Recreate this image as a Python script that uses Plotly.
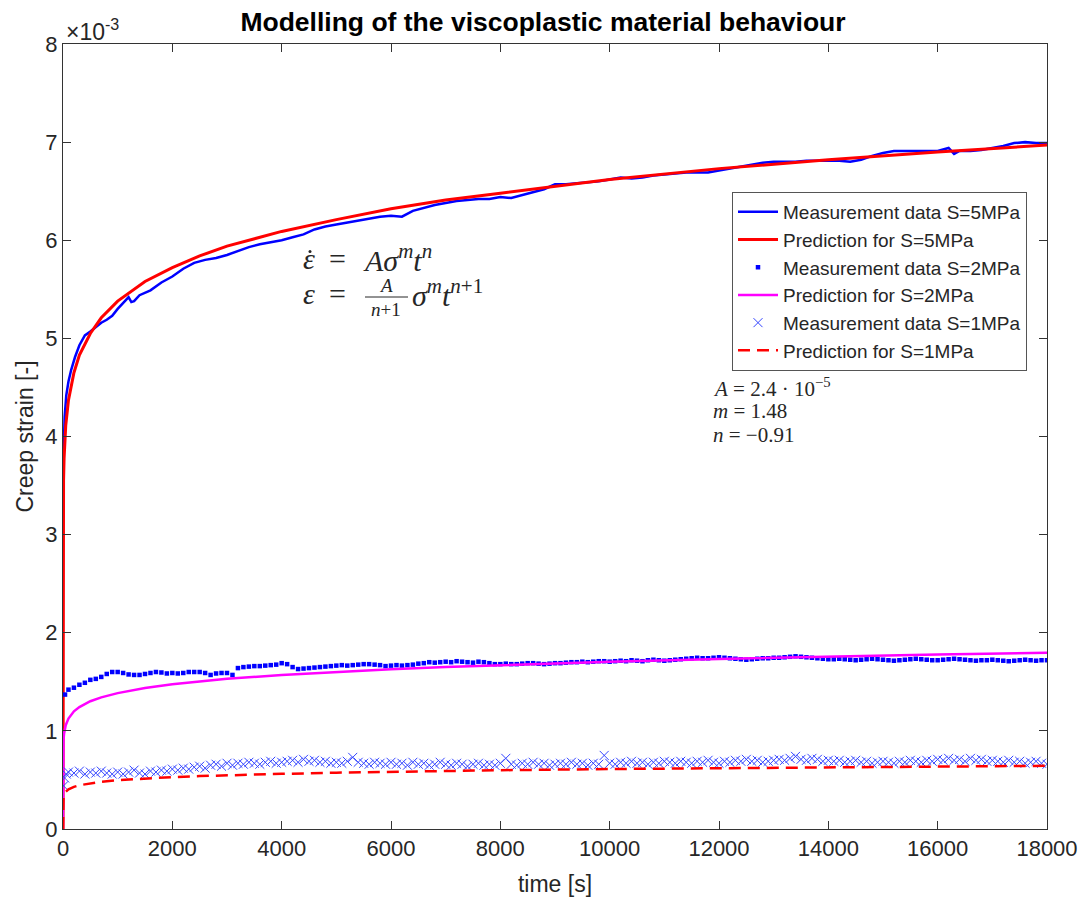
import plotly.graph_objects as go

# ---------------- data (strain values in units of 1e-3) ----------------
t_pred = [0, 1, 2, 5, 10, 20, 50, 100, 200, 300, 500, 700, 1000, 1500, 2000, 2500,
          3000, 4000, 5000, 6000, 7000, 8000, 10000, 12000, 14000, 16000, 18000]
pred_5mpa = [0, 2.89, 3.07, 3.34, 3.55, 3.78, 4.11, 4.37, 4.65, 4.83, 5.05, 5.21, 5.38, 5.58,
             5.72, 5.84, 5.94, 6.09, 6.21, 6.32, 6.41, 6.48, 6.62, 6.73, 6.82, 6.90, 6.97]
pred_2mpa = [0, 0.744, 0.792, 0.860, 0.915, 0.974, 1.058, 1.126, 1.199, 1.243, 1.302, 1.341,
             1.385, 1.437, 1.475, 1.504, 1.530, 1.569, 1.601, 1.628, 1.651, 1.670, 1.705,
             1.733, 1.757, 1.778, 1.797]
pred_1mpa = [0, 0.267, 0.284, 0.308, 0.328, 0.349, 0.379, 0.404, 0.430, 0.446, 0.467, 0.481,
             0.497, 0.515, 0.529, 0.539, 0.548, 0.562, 0.574, 0.584, 0.592, 0.599, 0.611,
             0.621, 0.630, 0.637, 0.644]

t_meas5 = [10, 30, 60, 100, 150, 220, 300, 400, 500, 600, 700, 800, 900, 1000, 1100, 1200,
           1250, 1300, 1400, 1600, 1800, 2000, 2200, 2400, 2600, 2800, 3000, 3200, 3400,
           3600, 3800, 4000, 4200, 4400, 4600, 4800, 5000, 5200, 5400, 5600, 5800, 6000,
           6200, 6400, 6600, 6800, 7000, 7200, 7400, 7600, 7800, 8000, 8200, 8400, 8600,
           8800, 9000, 9200, 9400, 9600, 9800, 10000, 10200, 10400, 10600, 10800, 11000,
           11200, 11400, 11600, 11800, 12000, 12200, 12400, 12600, 12800, 13000, 13200,
           13400, 13600, 13800, 14000, 14200, 14400, 14600, 14800, 15000, 15200, 15400,
           15600, 15800, 16000, 16200, 16300, 16400, 16600, 16800, 17000, 17200, 17400,
           17600, 17800, 18000]
meas_5mpa = [3.80, 4.20, 4.42, 4.56, 4.68, 4.81, 4.93, 5.03, 5.07, 5.12, 5.16, 5.19, 5.23,
             5.30, 5.36, 5.42, 5.37, 5.38, 5.44, 5.49, 5.57, 5.63, 5.71, 5.77, 5.80, 5.82,
             5.85, 5.89, 5.93, 5.96, 5.98, 6.00, 6.03, 6.06, 6.11, 6.14, 6.16, 6.18, 6.20,
             6.22, 6.24, 6.25, 6.24, 6.30, 6.33, 6.36, 6.38, 6.40, 6.41, 6.42, 6.42, 6.44,
             6.43, 6.46, 6.49, 6.52, 6.57, 6.57, 6.58, 6.59, 6.60, 6.62, 6.64, 6.63, 6.64,
             6.66, 6.67, 6.68, 6.69, 6.69, 6.69, 6.71, 6.73, 6.75, 6.77, 6.79, 6.80, 6.80,
             6.80, 6.81, 6.81, 6.81, 6.81, 6.80, 6.82, 6.86, 6.89, 6.91, 6.91, 6.91, 6.91,
             6.91, 6.94, 6.88, 6.91, 6.91, 6.92, 6.94, 6.96, 6.99, 7.00, 6.99, 6.99]

t_meas2 = [37] + [100 * i for i in range(1, 181)]
meas_2mpa = [1.37,
    1.42, 1.44, 1.47, 1.49, 1.52, 1.53, 1.55, 1.58, 1.60, 1.60,
    1.59, 1.575, 1.57, 1.57, 1.58, 1.59, 1.60, 1.595, 1.585, 1.59,
    1.585, 1.59, 1.60, 1.60, 1.60, 1.59, 1.57, 1.585, 1.59, 1.59,
    1.57, 1.64, 1.65, 1.655, 1.66, 1.66, 1.665, 1.67, 1.675, 1.69,
    1.68, 1.65, 1.63, 1.635, 1.64, 1.645, 1.65, 1.655, 1.66, 1.665,
    1.67, 1.665, 1.67, 1.675, 1.68, 1.68, 1.675, 1.67, 1.66, 1.665,
    1.67, 1.665, 1.67, 1.675, 1.685, 1.69, 1.70, 1.695, 1.70, 1.705,
    1.70, 1.71, 1.705, 1.70, 1.695, 1.705, 1.70, 1.69, 1.68, 1.68,
    1.685, 1.68, 1.68, 1.685, 1.69, 1.69, 1.685, 1.68, 1.685, 1.69,
    1.69, 1.695, 1.70, 1.70, 1.705, 1.70, 1.705, 1.71, 1.71, 1.705,
    1.71, 1.715, 1.71, 1.72, 1.715, 1.71, 1.72, 1.725, 1.72, 1.715,
    1.72, 1.725, 1.73, 1.735, 1.74, 1.745, 1.74, 1.74, 1.745, 1.75,
    1.745, 1.74, 1.735, 1.73, 1.725, 1.73, 1.735, 1.74, 1.74, 1.745,
    1.745, 1.75, 1.755, 1.76, 1.755, 1.75, 1.745, 1.74, 1.735, 1.73,
    1.73, 1.735, 1.73, 1.725, 1.72, 1.725, 1.73, 1.735, 1.73, 1.725,
    1.72, 1.715, 1.72, 1.725, 1.73, 1.735, 1.73, 1.725, 1.72, 1.72,
    1.725, 1.73, 1.735, 1.73, 1.725, 1.72, 1.715, 1.72, 1.72, 1.725,
    1.72, 1.715, 1.71, 1.715, 1.72, 1.725, 1.72, 1.715, 1.72, 1.72]

t_meas1 = [10, 30, 60] + [100 * i for i in range(1, 181)]
meas_1mpa = [0.44, 0.52, 0.56,
    0.58, 0.57, 0.59, 0.56, 0.58, 0.57, 0.59, 0.57, 0.56, 0.58,
    0.56, 0.58, 0.60, 0.57, 0.56, 0.59, 0.58, 0.60, 0.59, 0.61,
    0.60, 0.62, 0.61, 0.63, 0.64, 0.62, 0.65, 0.66, 0.64, 0.67,
    0.65, 0.67, 0.66, 0.68, 0.67, 0.66, 0.68, 0.69, 0.67, 0.68,
    0.69, 0.70, 0.68, 0.71, 0.69, 0.70, 0.68, 0.69, 0.67, 0.68,
    0.67, 0.69, 0.73, 0.68, 0.67, 0.66, 0.68, 0.67, 0.66, 0.68,
    0.66, 0.67, 0.65, 0.68, 0.66, 0.67, 0.65, 0.66, 0.68, 0.66,
    0.65, 0.67, 0.66, 0.64, 0.66, 0.67, 0.65, 0.66, 0.65, 0.67,
    0.72, 0.66, 0.65, 0.67, 0.66, 0.68, 0.66, 0.67, 0.65, 0.66,
    0.67, 0.66, 0.68, 0.66, 0.67, 0.65, 0.67, 0.66, 0.75, 0.67,
    0.66, 0.68, 0.67, 0.69, 0.67, 0.68, 0.66, 0.68, 0.67, 0.69,
    0.68, 0.67, 0.69, 0.68, 0.67, 0.69, 0.68, 0.70, 0.68, 0.67,
    0.69, 0.68, 0.70, 0.69, 0.71, 0.69, 0.70, 0.68, 0.69, 0.70,
    0.71, 0.70, 0.72, 0.74, 0.71, 0.70, 0.72, 0.71, 0.69, 0.70,
    0.69, 0.70, 0.68, 0.69, 0.70, 0.68, 0.69, 0.67, 0.68, 0.69,
    0.68, 0.67, 0.69, 0.68, 0.70, 0.69, 0.68, 0.70, 0.69, 0.71,
    0.70, 0.72, 0.70, 0.71, 0.69, 0.72, 0.70, 0.71, 0.69, 0.70,
    0.69, 0.68, 0.70, 0.68, 0.69, 0.67, 0.68, 0.69, 0.67, 0.66]

x_ticks = [0, 2000, 4000, 6000, 8000, 10000, 12000, 14000, 16000, 18000]
y_ticks = [0, 1, 2, 3, 4, 5, 6, 7, 8]

names = ["Measurement data S=5MPa", "Prediction for S=5MPa",
         "Measurement data S=2MPa", "Prediction for S=2MPa",
         "Measurement data S=1MPa", "Prediction for S=1MPa"]

# ---------------- figure ----------------
W, H = 1086, 904
L, R, T, B = 63, 39, 44, 75
PW, PH = W - L - R, H - T - B
SANS = "Liberation Sans, Arial"
SERIF = "Liberation Serif, DejaVu Serif, serif"
INK = "#262626"


def px(x):
    return (x - L) / PW


def py(y):
    return (H - B - y) / PH


fig = go.Figure()
fig.add_trace(go.Scatter(x=t_meas5, y=meas_5mpa, mode="lines", name=names[0],
                         line=dict(color="#0000FF", width=2.5)))
fig.add_trace(go.Scatter(x=t_pred, y=pred_5mpa, mode="lines", name=names[1],
                         line=dict(color="#FF0000", width=3)))
fig.add_trace(go.Scatter(x=t_meas2, y=meas_2mpa, mode="markers", name=names[2],
                         marker=dict(symbol="square", size=4.5, color="#0000FF",
                                     line=dict(width=0))))
fig.add_trace(go.Scatter(x=t_pred, y=pred_2mpa, mode="lines", name=names[3],
                         line=dict(color="#FF00FF", width=2.5)))
fig.add_trace(go.Scatter(x=t_meas1, y=meas_1mpa, mode="markers", name=names[4],
                         marker=dict(symbol="x-thin-open", size=9, color="#3344FF",
                                     line=dict(width=1, color="#3344FF"))))
fig.add_trace(go.Scatter(x=t_pred, y=pred_1mpa, mode="lines", name=names[5],
                         line=dict(color="#FF0000", width=2.5, dash="12px,7px")))

axis_common = dict(showgrid=False, zeroline=False, showline=True, linecolor="#333333",
                   linewidth=1, ticks="inside", ticklen=8, tickwidth=1, tickcolor="#333333",
                   mirror="ticks", tickfont=dict(family=SANS, size=22, color=INK))

fig.update_layout(
    width=W, height=H,
    margin=dict(l=L, r=R, t=T, b=B, autoexpand=False),
    paper_bgcolor="white", plot_bgcolor="white",
    title=dict(text="<b>Modelling of the viscoplastic material behaviour</b>",
               x=px(555), xanchor="center", y=1 - 22 / H, yanchor="middle",
               font=dict(family=SANS, size=26.5, color="black")),
    xaxis=dict(range=[0, 18000], tickvals=x_ticks, ticktext=[str(v) for v in x_ticks],
               title=dict(text="time [s]", font=dict(family=SANS, size=23, color=INK),
                          standoff=15),
               **axis_common),
    yaxis=dict(range=[0, 8], tickvals=y_ticks, ticktext=[str(v) for v in y_ticks],
               title=dict(text="Creep strain [-]", font=dict(family=SANS, size=23, color=INK),
                          standoff=5),
               **axis_common),
    legend=dict(x=px(1027), xanchor="right", y=py(192), yanchor="top",
                bgcolor="white", bordercolor="#555555", borderwidth=1,
                font=dict(family=SANS, size=19, color=INK),
                itemwidth=40, tracegroupgap=0),
    showlegend=True,
)

ann = []


def txt(x, y, text, size, xanchor="left", family=SERIF, color=INK):
    ann.append(dict(x=px(x), y=py(y), xref="paper", yref="paper", xanchor=xanchor,
                    yanchor="middle", showarrow=False, text=text,
                    font=dict(family=family, size=size, color=color)))


# x10^-3 exponent label
txt(64, 30, "×10<sup>-3</sup>", 23, family=SANS)
# formula line 1:  eps_dot = A sigma^m t^n  (dot drawn as a tiny shape below)
txt(301, 258, "<i>ε</i>", 30)
txt(327, 258, "=", 30)
txt(361, 258, "<i>A</i><i>σ</i><sup><i>m</i></sup><i>t</i><sup><i>n</i></sup>", 30)
# formula line 2:  eps = A/(n+1) sigma^m t^(n+1)
txt(301, 293, "<i>ε</i>", 30)
txt(327, 293, "=", 30)
txt(386, 285, "<i>A</i>", 19, xanchor="center")
txt(386, 309, "<i>n</i>+1", 19, xanchor="center")
txt(410, 293, "<i>σ</i><sup><i>m</i></sup><i>t</i><sup><i>n</i>+1</sup>", 30)
# parameters
params = ["<i>A</i> = 2.4 · 10<sup>−5</sup>", "<i>m</i> = 1.48", "<i>n</i> = −0.91"]
for i, p in enumerate(params):
    txt(711, 387 + 24 * i, p, 21)
fig.update_layout(annotations=ann)

# fraction bar and the time-derivative dot
fig.add_shape(type="line", xref="paper", yref="paper", x0=px(365), x1=px(408),
              y0=py(297), y1=py(297), line=dict(color=INK, width=1))
fig.add_shape(type="circle", xref="paper", yref="paper",
              x0=px(308.5), x1=px(311.5), y0=py(253), y1=py(250),
              fillcolor=INK, line=dict(width=0))

fig.write_html("out.html")
